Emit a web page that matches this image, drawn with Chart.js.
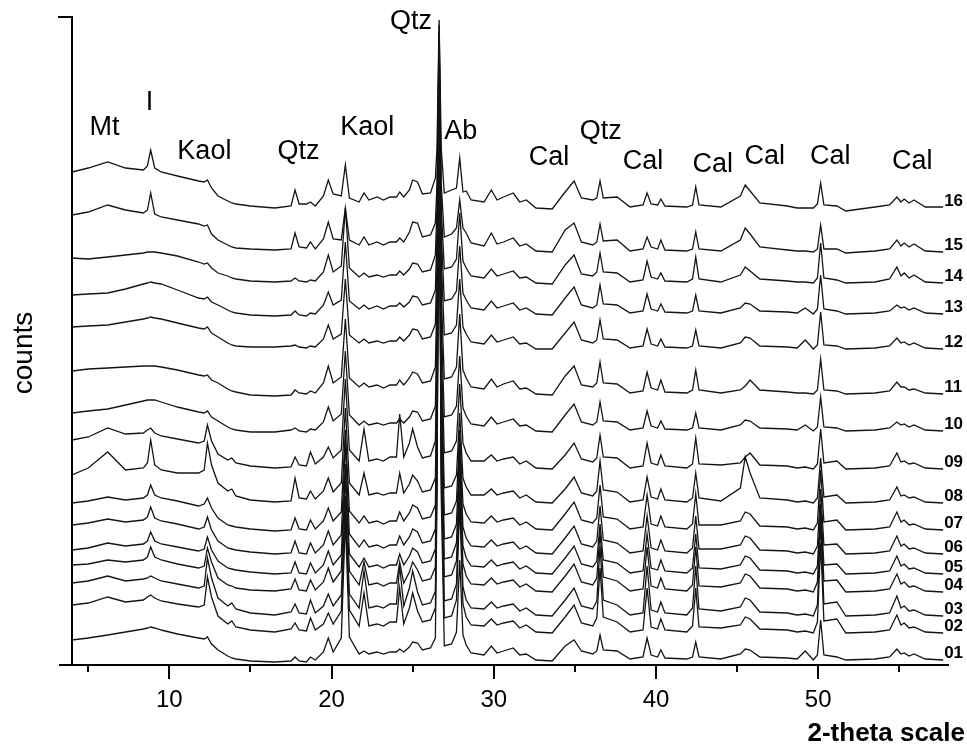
<!DOCTYPE html>
<html><head><meta charset="utf-8">
<script src="https://cdn.jsdelivr.net/npm/chart.js@4.4.1/dist/chart.umd.min.js"></script>
<style>html,body{margin:0;padding:0;background:#fff;}canvas{display:block;}</style>
</head><body>
<canvas id="c" width="967" height="744"></canvas>
<script>
// 2-theta positions (degrees) of the points
const twoTheta = [
4.0,5.0,6.2,7.3,8.4,8.65,8.85,9.1,9.5,10.5,11.8,12.15,12.35,12.6,13.0,13.6,13.85,14.1,15.0,16.5,
17.5,17.75,18.0,18.45,18.7,19.0,19.5,19.8,20.1,20.6,20.85,21.1,21.7,22.0,22.3,22.8,23.2,23.6,24.0,24.2,
24.45,24.8,25.0,25.3,25.6,26.1,26.4,26.5,26.63,26.76,26.95,27.4,27.7,27.9,28.1,28.3,28.6,29.4,29.85,30.2,
30.6,31.2,31.6,32.0,32.6,33.6,34.4,34.95,35.4,36.1,36.35,36.55,36.75,37.6,38.4,39.2,39.45,39.7,40.1,40.3,
40.55,41.9,42.25,42.45,42.65,44.0,45.2,45.5,45.8,46.4,48.1,48.7,49.2,49.7,49.95,50.15,50.35,51.15,51.7,53.5,
54.4,54.85,55.1,55.3,55.6,55.9,56.6,57.7];

const sampleNames = ['01','02','03','04','05','06','07','08','09','10','11','12','13','14','15','16'];
// vertical offset of each pattern (counts, stacked plot)
const offsets = [5,32,49,73,91,111,135,162,196,234,271,316,351,382,413,457];

const s01 = [20,22,25,28,31,32,33,32,30,26,22,21,23,16,10,4,2,1,-1,-2,
 -1,3,-1,-2,3,0,8,22,8,22,140,23,6,9,6,8,6,8,8,11,
 8,13,18,17,10,12,22,165,550,165,14,16,28,100,25,15,7,5,14,7,
 9,12,5,6,0,-1,14,20,9,6,9,25,10,9,1,3,22,5,3,10,
 2,1,3,18,3,1,6,11,10,3,2,1,9,0,5,40,5,3,0,1,
 3,11,6,7,4,6,1,0];
const s02 = [28,30,36,31,33,36,38,35,32,29,26,28,56,36,17,9,12,6,3,1,
 4,10,3,2,15,3,9,20,9,22,130,23,7,40,7,9,7,11,11,45,
 9,25,40,22,11,13,25,158,528,158,15,17,33,130,29,16,8,7,14,8,
 10,12,5,8,1,0,16,28,10,7,15,65,16,11,1,3,45,6,4,14,
 3,1,7,45,6,5,8,16,14,4,3,1,2,0,11,90,12,14,0,1,
 3,18,8,10,5,6,1,0];
const s03 = [33,35,40,35,37,38,40,38,35,32,28,30,58,38,18,10,13,7,3,1,
 4,12,3,2,16,3,10,22,10,21,120,22,8,45,8,10,8,12,12,50,
 10,28,45,24,11,13,25,155,516,155,15,17,32,125,29,16,8,7,14,8,
 10,12,5,8,1,0,16,28,10,7,15,70,16,11,1,3,50,6,4,14,
 3,1,8,50,7,5,9,18,16,4,3,1,2,0,11,95,12,14,0,1,
 3,20,8,10,5,6,1,0];
const s04 = [27,28,32,30,32,35,45,35,32,28,24,26,44,30,14,7,6,4,2,1,
 3,13,2,1,12,2,10,24,10,21,115,21,7,30,7,9,6,9,9,30,
 9,20,30,22,11,13,25,149,497,149,15,17,31,120,28,16,8,7,14,8,
 10,12,5,8,1,0,16,28,10,7,14,60,15,11,1,3,45,6,4,14,
 3,1,7,45,6,5,9,18,16,4,3,1,2,0,10,80,11,12,0,1,
 3,18,8,10,5,6,1,0];
const s05 = [24,26,31,28,30,33,42,33,30,27,23,25,37,24,13,6,5,4,2,0,
 1,12,1,0,11,1,9,23,9,19,110,20,7,16,7,9,6,9,9,20,
 9,18,26,22,11,13,25,145,484,145,15,17,31,115,28,16,8,7,14,8,
 10,12,5,8,1,0,16,28,10,7,13,50,14,11,1,3,40,6,4,14,
 3,1,6,40,6,5,9,18,16,4,3,1,2,0,8,70,9,10,0,1,
 3,18,8,10,5,6,1,0];
const s06 = [29,31,35,32,34,37,47,36,33,30,25,27,37,24,13,6,5,4,2,0,
 1,13,1,0,11,1,9,23,9,19,110,20,7,14,7,9,6,9,9,18,
 9,17,25,22,11,13,25,141,469,141,15,17,30,110,27,16,8,7,14,8,
 10,12,5,8,1,0,16,28,10,7,13,48,14,11,1,3,38,6,4,14,
 3,1,6,38,5,5,9,18,16,4,3,1,2,0,8,65,9,10,0,1,
 3,18,8,10,5,6,1,0];
const s07 = [27,29,33,30,32,35,45,35,32,29,24,26,32,22,12,5,4,3,1,-1,
 0,12,1,0,10,1,9,22,9,18,100,19,7,14,7,9,6,9,9,18,
 9,17,25,22,11,13,25,135,450,135,15,17,29,100,26,16,8,7,14,8,
 10,12,5,8,1,0,16,28,10,7,12,45,13,11,1,3,35,6,4,14,
 3,1,6,36,5,5,9,18,16,4,3,1,2,0,7,60,8,10,0,1,
 3,18,8,10,5,6,1,0];
const s08 = [28,35,51,33,35,40,63,38,33,30,30,33,60,38,20,12,14,7,3,1,
 2,25,5,4,12,4,12,25,11,20,95,20,8,30,8,10,8,10,10,30,
 10,19,28,22,11,13,25,129,430,129,15,17,28,90,25,16,8,8,14,8,
 10,12,5,8,1,0,14,26,10,7,12,42,13,11,1,3,26,6,4,14,
 3,1,5,30,5,2,15,46,30,5,3,1,2,0,5,45,6,8,0,1,
 3,16,7,8,5,6,1,0];
const s09 = [29,32,41,35,36,39,41,36,33,30,26,28,44,28,15,9,11,6,3,1,
 2,12,4,3,17,5,12,22,11,19,90,19,8,40,8,10,8,12,12,55,
 12,26,40,22,11,13,28,120,402,120,16,18,28,85,26,16,8,8,14,8,
 10,12,5,8,1,0,14,26,10,7,11,34,12,11,1,3,26,6,4,14,
 3,1,5,31,5,4,6,12,16,4,3,1,2,0,5,40,6,8,0,1,
 3,16,7,8,5,6,1,0];
const s10 = [18,20,22,26,30,31,31,31,29,24,19,18,20,14,10,4,2,1,-1,-1,
 1,3,0,-1,2,1,9,24,10,17,80,16,6,10,6,8,6,8,8,12,
 8,14,20,19,10,12,25,111,371,111,14,16,25,75,23,15,7,5,14,7,
 9,12,5,6,0,-1,16,27,9,6,9,29,10,9,1,3,20,5,3,10,
 2,1,3,18,3,1,6,11,10,3,2,1,6,0,4,34,4,3,0,1,
 3,9,6,7,4,6,1,0];
const s11 = [23,25,26,27,28,28,28,28,27,24,19,18,19,14,11,5,3,2,-1,-2,
 -1,4,1,0,3,1,11,28,11,17,75,16,7,11,7,9,6,9,9,14,
 9,16,22,20,11,13,27,102,341,102,15,17,27,80,24,16,7,5,15,7,
 10,13,5,6,0,-1,18,28,9,7,11,32,11,10,1,3,22,6,4,14,
 2,1,4,24,4,1,4,8,14,4,2,1,1,0,4,35,4,3,0,1,
 3,12,7,7,4,5,1,0];
const s12 = [22,23,24,27,30,31,32,31,30,26,21,20,22,16,12,6,4,3,2,2,
 3,4,2,1,3,2,10,24,10,15,70,14,6,10,6,8,6,8,8,12,
 8,14,20,19,10,12,25,91,304,91,14,16,24,70,22,15,7,5,14,7,
 9,12,5,6,0,0,16,27,9,6,9,29,10,9,1,3,20,5,3,10,
 2,1,3,19,3,1,6,12,11,3,2,1,9,0,4,37,4,3,0,1,
 3,11,6,7,4,6,1,0];
const s13 = [19,20,21,25,30,31,32,31,30,24,16,15,17,12,9,4,2,1,-1,-2,
 -1,3,-1,-2,1,0,9,22,9,14,72,13,5,9,5,8,5,8,8,11,
 7,12,18,17,9,11,24,83,277,83,13,15,23,68,21,14,6,4,13,6,
 8,11,4,6,0,-1,16,27,9,6,9,29,10,9,1,3,20,5,3,10,
 2,1,3,19,3,1,6,11,10,3,2,1,6,0,5,39,5,3,0,1,
 3,9,6,7,4,6,1,0];
const s14 = [25,24,26,28,30,31,31,31,30,27,21,19,20,15,10,7,5,4,2,1,
 2,5,2,1,3,2,11,28,11,17,75,15,6,10,6,8,6,8,8,12,
 8,14,20,19,11,13,28,75,250,75,14,16,24,70,22,15,7,5,14,7,
 9,12,5,6,0,-1,18,28,9,7,11,30,11,10,1,3,22,6,4,10,
 2,1,4,26,4,1,8,16,12,4,2,1,1,0,5,40,5,3,0,1,
 4,16,7,10,5,8,1,0];
const s15 = [37,40,47,42,39,42,59,38,35,32,28,26,27,18,12,7,5,4,3,2,
 3,19,5,4,10,3,13,30,13,12,44,12,7,15,7,10,7,10,10,14,
 10,20,30,29,15,17,29,68,227,68,15,18,24,52,24,19,9,6,19,8,
 10,14,6,8,1,0,22,29,10,7,10,28,11,12,1,3,15,5,3,12,
 2,1,3,20,3,1,12,24,18,5,2,1,1,0,3,27,3,3,-1,1,
 3,12,6,9,5,8,1,0];
const s16 = [36,40,46,40,38,42,58,40,36,32,27,26,28,20,12,7,5,4,2,0,
 2,18,4,4,6,2,12,28,14,12,43,10,6,15,8,11,8,11,11,16,
 11,18,28,26,14,15,30,60,188,60,15,18,20,50,16,17,8,6,18,8,
 11,15,6,8,0,-1,16,27,10,8,10,27,10,11,1,3,15,4,3,9,
 2,1,3,21,3,1,12,23,17,5,2,0,0,0,4,25,3,2,-3,1,
 3,11,6,9,5,8,1,1];

const patterns = [s01,s02,s03,s04,s05,s06,s07,s08,s09,s10,s11,s12,s13,s14,s15,s16];

// phase annotations (position in data units)
const phaseNames = ['Mt','I','Kaol','Qtz','Kaol','Qtz','Ab','Cal','Qtz','Cal','Cal','Cal','Cal','Cal'];
const phaseX = [6.0,8.77,12.16,17.96,22.2,24.9,27.96,33.4,36.6,39.2,43.5,46.7,50.74,55.8];
const phaseY = [537,562,513,513,537,643,533,507,533,503,500,508,508,503];

const minorTicks = [5,15,25,35,45,55];
const FONT = '"Liberation Sans", Arial, Helvetica, sans-serif';

const datasets = patterns.map((p, k) => ({
  label: sampleNames[k],
  data: twoTheta.map((t, i) => ({x: t, y: offsets[k] + p[i]})),
  borderColor: '#141414',
  borderWidth: 1.3,
  pointRadius: 0,
  tension: 0,
  fill: false
}));

const decor = {
  id: 'decor',
  afterDraw(chart) {
    const {ctx, chartArea: ca, scales: {x, y}} = chart;
    ctx.save();
    ctx.strokeStyle = '#000';
    ctx.lineWidth = 2;
    minorTicks.forEach(v => {
      const px = Math.round(x.getPixelForValue(v));
      ctx.beginPath(); ctx.moveTo(px, ca.bottom); ctx.lineTo(px, ca.bottom + 7); ctx.stroke();
    });
    ctx.beginPath(); ctx.moveTo(59, ca.bottom); ctx.lineTo(ca.left, ca.bottom); ctx.stroke();
    ctx.beginPath(); ctx.moveTo(58, ca.top); ctx.lineTo(ca.left + 1, ca.top); ctx.stroke();

    ctx.fillStyle = '#000';
    ctx.font = 'bold 17px ' + FONT;
    ctx.textAlign = 'left'; ctx.textBaseline = 'alphabetic';
    const endX = x.getPixelForValue(twoTheta[twoTheta.length - 1]);
    sampleNames.forEach((n, k) => ctx.fillText(n, endX + 1, y.getPixelForValue(offsets[k]) - 2));

    ctx.font = '27px ' + FONT;
    ctx.textAlign = 'center'; ctx.textBaseline = 'middle';
    phaseNames.forEach((t, i) => ctx.fillText(t, x.getPixelForValue(phaseX[i]), y.getPixelForValue(phaseY[i])));

    ctx.font = 'bold 26px ' + FONT;
    ctx.textAlign = 'right';
    ctx.fillText('2-theta scale', 965, 734);

    ctx.translate(24, 353);
    ctx.rotate(-Math.PI / 2);
    ctx.font = '28px ' + FONT;
    ctx.textAlign = 'center';
    ctx.fillText('counts', 0, 0);
    ctx.restore();
  }
};

new Chart(document.getElementById('c'), {
  type: 'line',
  data: {datasets},
  options: {
    responsive: false,
    animation: false,
    devicePixelRatio: 1,
    layout: {padding: {top: 17, right: 19, left: 0, bottom: 0}},
    plugins: {legend: {display: false}, tooltip: {enabled: false}},
    scales: {
      x: {
        type: 'linear', min: 4, max: 58, position: 'bottom',
        afterFit: s => { s.height = 79; },
        border: {color: '#000', width: 2},
        grid: {drawOnChartArea: false, drawTicks: true, tickLength: 14, color: '#000', lineWidth: 2},
        ticks: {stepSize: 10, includeBounds: false, autoSkip: false, maxRotation: 0, color: '#000', padding: 7,
                font: {size: 24, family: FONT}}
      },
      y: {
        type: 'linear', min: 0, max: 648,
        afterFit: s => { s.width = 72; },
        border: {color: '#000', width: 2},
        grid: {display: false},
        ticks: {display: false}
      }
    }
  },
  plugins: [decor]
});
</script>
</body></html>
